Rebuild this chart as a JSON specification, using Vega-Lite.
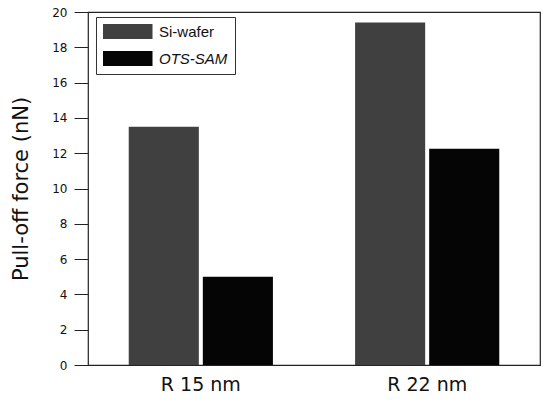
{
  "$schema": "https://vega.github.io/schema/vega-lite/v6.json",
  "width": 452,
  "height": 353,
  "padding": {"left": 10, "top": 6, "right": 5, "bottom": 5},
  "background": "white",
  "data": {
    "values": [
      {"radius": "R 15 nm", "surface": "Si-wafer", "force": 13.5},
      {"radius": "R 15 nm", "surface": "OTS-SAM", "force": 5.0},
      {"radius": "R 22 nm", "surface": "Si-wafer", "force": 19.4},
      {"radius": "R 22 nm", "surface": "OTS-SAM", "force": 12.25}
    ]
  },
  "mark": {"type": "bar"},
  "encoding": {
    "x": {
      "field": "radius",
      "type": "nominal",
      "sort": ["R 15 nm", "R 22 nm"],
      "scale": {"paddingInner": 0.363, "paddingOuter": 0.18},
      "axis": {"title": null, "labelAngle": 0, "ticks": false, "domain": false, "labelFontSize": 19, "labelFont": "DejaVu Sans", "labelColor": "#111", "labelPadding": 10}
    },
    "xOffset": {
      "field": "surface",
      "type": "nominal",
      "sort": ["Si-wafer", "OTS-SAM"],
      "scale": {"paddingInner": 0.054, "paddingOuter": 0}
    },
    "y": {
      "field": "force",
      "type": "quantitative",
      "scale": {"domain": [0, 20], "nice": false},
      "axis": {"title": "Pull-off force (nN)", "titleFontSize": 21, "titleFont": "DejaVu Sans", "titleFontWeight": "normal", "titleColor": "#111", "titlePadding": 20, "values": [0,2,4,6,8,10,12,14,16,18,20], "labelOverlap": false, "labelFlush": false, "grid": false, "domain": false, "tickSize": 14, "tickColor": "#222", "labelFontSize": 12, "labelFont": "DejaVu Sans", "labelColor": "#111", "labelPadding": 7}
    },
    "color": {
      "field": "surface",
      "type": "nominal",
      "sort": ["Si-wafer", "OTS-SAM"],
      "scale": {"domain": ["Si-wafer", "OTS-SAM"], "range": ["#404040", "#050505"]},
      "legend": {
        "title": null,
        "orient": "none",
        "legendX": 8,
        "legendY": 5,
        "symbolType": "M-1,-1L5.6,-1L5.6,1L-1,1Z",
        "symbolSize": 225,
        "symbolStrokeWidth": 0,
        "symbolOpacity": 1,
        "labelFontSize": 15,
        "labelFont": "Liberation Sans",
        "labelColor": "#111",
        "rowPadding": 11,
        "padding": 7,
        "strokeColor": "#333",
        "labelOffset": 41,
        "encode": {
          "labels": {"update": {"fontStyle": {"signal": "datum.label === 'OTS-SAM' ? 'italic' : 'normal'"}}}
        }
      }
    }
  },
  "config": {
    "view": {"stroke": "#222", "strokeWidth": 1.2},
    "axis": {"tickWidth": 1}
  }
}
